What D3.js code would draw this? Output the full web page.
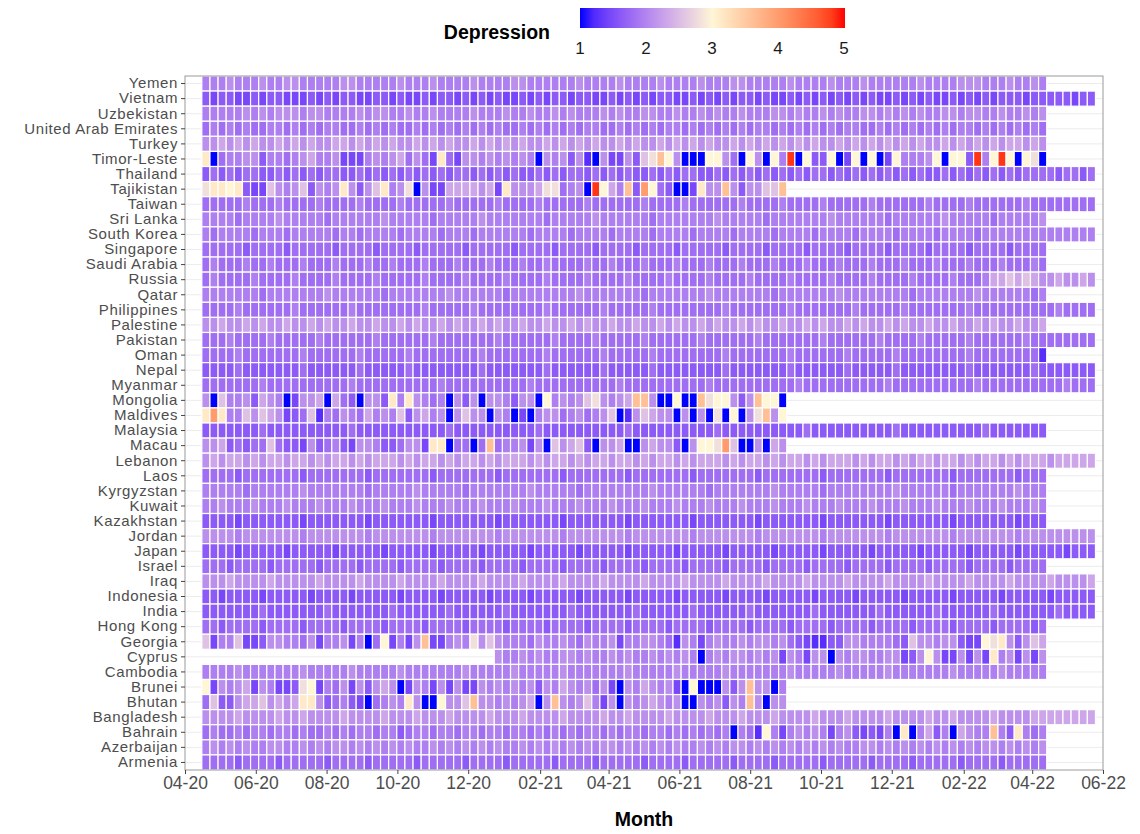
<!DOCTYPE html>
<html>
<head>
<meta charset="utf-8">
<script src="https://cdn.jsdelivr.net/npm/d3@7"></script>
<style>
  body { margin: 0; background: #fff; }
  svg { display: block; font-family: "Liberation Sans", Arial, Helvetica, sans-serif; }
</style>
</head>
<body>
<svg id="chart" width="1140" height="834"></svg>
<script>
// Countries, top row first
const countries = [
  "Yemen", "Vietnam", "Uzbekistan", "United Arab Emirates", "Turkey", "Timor-Leste",
  "Thailand", "Tajikistan", "Taiwan", "Sri Lanka", "South Korea", "Singapore",
  "Saudi Arabia", "Russia", "Qatar", "Philippines", "Palestine", "Pakistan", "Oman",
  "Nepal", "Myanmar", "Mongolia", "Maldives", "Malaysia", "Macau", "Lebanon", "Laos",
  "Kyrgyzstan", "Kuwait", "Kazakhstan", "Jordan", "Japan", "Israel", "Iraq",
  "Indonesia", "India", "Hong Kong", "Georgia", "Cyprus", "Cambodia", "Brunei",
  "Bhutan", "Bangladesh", "Bahrain", "Azerbaijan", "Armenia"
];

// Weekly depression score, one character per week starting 2020-04-19
// ('.' = no survey that week). Character -> score given by levelValue.
const weeklyCodes = [
  "5556555655 6655555665 5555655565 5556555566 5555556555 5655556555 5655566555 5565555655 5655555565 5556665556 5565",
  "3233223233 2223232332 2332322323 3232323223 2323323322 3232323322 3232323323 2232323232 3232232323 2232323233 3233333233",
  "5555565656 6656655556 5665565565 5556555655 6556565556 5655665565 5656556555 6656556565 5665656565 5665665565 5656",
  "4545454455 4545455445 4545445454 5454545445 4545454554 4545454554 5454545455 4545454545 5445454545 4545545454 5454",
  "6676767667 6767667767 6767667676 7667676767 6676767676 6767667676 7676676767 6767676676 7676767676 6767676767 7676",
  "yB45566355 4567556222 565674642y 426656 56565B6563 61B6226389 ow6BBBww64 Bw6Bw5 RBw33wB2wB wB2w5556wB ww3R5wRwBw 9B",
  "3434344334 3434344334 3434343434 3443434343 3434344343 4343343434 4334343434 3434344343 4343434343 3434343434 3444434434",
  "9yywy32286 5683656y63 68y569B622 777767 2y66679945 6BRw75o3Ow 43BB2y66o6 36688o",
  "4444454445 4444544445 4444544444 5444445444 4544444544 4444544445 4444445444 4544445444 4454444445 4444544444 4544444444",
  "5555455556 5555545555 5565555545 5555655555 5545555565 5555545555 5556555554 5555555655 5555455555 5655555455 5556",
  "5455554555 4555554554 5555455554 5554555555 4555545555 4555545555 4555545555 4555545555 4555545555 4555545555 5555555555",
  "4444434444 3444443444 4344443444 4434444434 4443444434 4443444434 4444344443 4444344443 4444344443 4444344443 4444",
  "4544454454 4454445444 5445444544 4544454445 4454444544 5444544454 4454445444 5444544454 4454445444 5444544454 4454",
  "4544445444 4544445444 4544444544 4454444544 4454444544 4454444544 4454444544 4454444544 4454444544 4454445778 7876676676",
  "5555555455 5555565555 5545555555 6555555455 5555556555 5555455555 5565555555 4555555565 5555555455 5555565555 5545",
  "4444544444 4544444454 4444444544 4445444444 4454444445 4444454444 4444544444 4454444444 5444445444 4444544444 4444454444",
  "6676676766 7667676676 6766767667 6766767667 6676676766 7667667676 6767667676 6766767667 6766767667 6676676766 7667",
  "4445444454 4444544444 4544444454 4444445444 4445444454 4444544444 4544444454 4444445444 4445444454 4444544444 4544444444",
  "4444544444 4454444445 4444454444 4444544444 4454444445 4444454444 4444544444 4454444445 4444454444 4444544444 4441",
  "3333433333 3343333334 3333343333 3333433333 3343333334 3333343333 3333433333 3343333334 3333343333 3333433333 3343333333",
  "4444444544 4444444454 4444444445 4444444444 5444444444 4544444444 4454444444 4445444444 4444544444 4444454444 4444445444",
  "6B85563765 B2667B743B 663y5y6545 B636B6 65366Bw565 6896567oo6 BBwBBo9ww6 36owwB",
  "yOy5586876 2348154654 7565836756 B6866B 65B2B56645 64568B1687 66B6B6B9Bw B69o6w",
  "3333333433 3333333343 3333333333 4333333333 3433333333 3343333333 3334333333 3333433333 3333343333 3333334333 3333",
  "6673434484 3326345326 65334662yy B44B4o 455626B867 83B667BB67 663B6ww9O8 BB6B76",
  "6767767677 6776767767 6777676776 7677676777 6767767677 6776767767 6777676776 7677676777 6767767677 6776767767 6777677777",
  "4444344444 4434444444 3444444434 4444443444 4444344444 4434444444 3444444434 4444443444 4444344444 4434444444 3444",
  "5555545555 5565555555 4555556555 5545555555 6555554555 5555565555 5545555555 6555554555 5555565555 5545555555 6555",
  "5565556555 6555655565 5565556555 6555655565 5565556555 6555655565 5565556555 6555655565 5565556555 6555655565 5565",
  "3333233333 3323333333 2333333323 3333332333 3333233333 3323333333 2333333323 3333332333 3333233333 3323333333 2333",
  "6666566666 6656666666 5666666656 6666665666 6666566666 6656666666 5666666656 6666665666 6666566666 6656666666 5666666666",
  "3333233333 2333332333 3323333323 3333233333 2333332333 3323333323 3333233333 2333332333 3323333323 3333233333 2333332333",
  "4443444434 4444344443 4444344443 4444344443 4444344443 4444344443 4444344443 4444344443 4444344443 4444344443 4444",
  "6667666676 6666766667 6666766667 6666766667 6666766667 6666766667 6666766667 6666766667 6666766667 6666766667 6666766667",
  "3323333233 3332333323 3333233332 3333323333 2333332333 3323333323 3333233332 3333323333 2333332333 3323333323 3333233333",
  "3333333433 3333343333 3334333333 4333333433 3333343333 3334333333 4333333433 3333343333 3334333333 4333333433 3333343333",
  "4434444344 4434444344 4434444344 4434444344 4434444344 4434444344 4434444344 4434444344 4434444344 4434444344 4434",
  "8255822366 5546255625 B4w2526o22 565968 6555465565 4655625566 5416525655 6 5665643211 3366555543 866566322w 9y63687",
  ".......... .......... .......... ...... 6556565566 5655656556 56565B5656 6 5656265266 B656655662 36w6226262 y562626",
  "5555655555 5565555565 5555655555 5565555565 5555655555 5565555565 5555655555 5565555565 5555655555 5565555565 5555",
  "w265672652 239w254626 3676B26526 262265 6565636576 56462B6576 562BwBBB63 6o66B5",
  "4833677867 67yy634532 B4565y6BBw 668o66 56567B6o65 68526B6567 656BB65636 5o6B66",
  "6666766667 6676666766 6676667666 7666676667 6666766667 6676666766 6676667666 7666676667 6666766667 6676666766 6677777777",
  "4544545545 5454454545 5455345545 545545 5455454545 4554545545 545454545B 5 41w5256565 25632325By B5735B7655 o53y545",
  "5656565566 5565656656 5656565565 6565656556 5656565656 6565656565 5656566565 6565656565 5665656565 6565656656 5656",
  "4444344443 4444434444 3444443444 4434444344 4443444434 4444344443 4444434444 3444443444 4434444344 4443444434 4444"
];

const levelValue = {
  "B": 1.0, "1": 1.25, "2": 1.45, "3": 1.62, "4": 1.8, "5": 1.95, "6": 2.1,
  "7": 2.3, "8": 2.55, "9": 2.8, "w": 3.0, "y": 3.15, "o": 3.6, "O": 4.0, "R": 4.85
};

const firstWeek = new Date(2020, 3, 19);
const xTickLabels = ["04-20", "06-20", "08-20", "10-20", "12-20", "02-21", "04-21",
                     "06-21", "08-21", "10-21", "12-21", "02-22", "04-22", "06-22"];
const legendTicks = [1, 2, 3, 4, 5];

// ---- decode into tile records ----
const tiles = [];
countries.forEach((country, r) => {
  const code = weeklyCodes[r].replace(/\s+/g, "");
  for (let i = 0; i < code.length; i++) {
    const ch = code[i];
    if (ch === ".") continue;
    tiles.push({ country, week: d3.timeDay.offset(firstWeek, 7 * i), value: levelValue[ch] });
  }
});

// ---- layout ----
const svg = d3.select("#chart");
const panel = { left: 185, right: 1103, top: 76, bottom: 770 };
const FONT = "Liberation Sans, Arial, Helvetica, sans-serif";

const x = d3.scaleTime()
  .domain([new Date(2020, 3, 1), new Date(2022, 5, 1)])
  .range([panel.left, panel.right]);

const y = d3.scaleBand()
  .domain(countries)
  .range([panel.top, panel.bottom])
  .padding(0);

const color = d3.scaleLinear()
  .domain([1, 3, 5])
  .range(["#0000ff", "#fff6d6", "#ff0000"])
  .interpolate(d3.interpolateLab)
  .clamp(true);

const tileW = x(d3.timeDay.offset(firstWeek, 7)) - x(firstWeek);

// panel background + grid
svg.append("rect")
  .attr("x", panel.left).attr("y", panel.top)
  .attr("width", panel.right - panel.left).attr("height", panel.bottom - panel.top)
  .attr("fill", "#fff");

svg.append("g").selectAll("line")
  .data(countries)
  .join("line")
  .attr("x1", panel.left).attr("x2", panel.right)
  .attr("y1", d => y(d) + y.bandwidth() / 2)
  .attr("y2", d => y(d) + y.bandwidth() / 2)
  .attr("stroke", "#ececec").attr("stroke-width", 1);

// tiles
svg.append("g").selectAll("rect")
  .data(tiles)
  .join("rect")
  .attr("x", d => x(d.week) - tileW / 2)
  .attr("y", d => y(d.country))
  .attr("width", tileW)
  .attr("height", y.bandwidth())
  .attr("fill", d => color(d.value))
  .attr("stroke", "#fff")
  .attr("stroke-width", 1.2);

// panel border
svg.append("rect")
  .attr("x", panel.left).attr("y", panel.top)
  .attr("width", panel.right - panel.left).attr("height", panel.bottom - panel.top)
  .attr("fill", "none").attr("stroke", "#9a9a9a").attr("stroke-width", 1);

// axes
const tickDates = xTickLabels.map(s => {
  const [m, yy] = s.split("-").map(Number);
  return new Date(2000 + yy, m - 1, 1);
});

const xAxis = d3.axisBottom(x)
  .tickValues(tickDates)
  .tickFormat(d3.timeFormat("%m-%y"))
  .tickSize(4).tickPadding(3);

const gx = svg.append("g")
  .attr("transform", `translate(0,${panel.bottom})`)
  .call(xAxis);
gx.select(".domain").remove();
gx.selectAll(".tick line").attr("stroke", "#444");
gx.selectAll(".tick text")
  .attr("fill", "#4d4d4d").attr("font-size", 17.5)
  .attr("font-family", FONT);

const yAxis = d3.axisLeft(y).tickSize(4).tickPadding(3);
const gy = svg.append("g")
  .attr("transform", `translate(${panel.left},0)`)
  .call(yAxis);
gy.select(".domain").remove();
gy.selectAll(".tick line").attr("stroke", "#444");
gy.selectAll(".tick text")
  .attr("fill", "#4d4d4d").attr("font-size", 15)
  .attr("font-family", FONT)
  .attr("letter-spacing", 0.6);

svg.append("text")
  .attr("x", (panel.left + panel.right) / 2).attr("y", 826)
  .attr("text-anchor", "middle")
  .attr("font-size", 19.5).attr("font-weight", "bold")
  .attr("fill", "#000")
  .text("Month");

// legend colourbar
const legend = { x0: 580, x1: 845, y: 8, h: 20 };
const defs = svg.append("defs");
const grad = defs.append("linearGradient").attr("id", "depr-grad")
  .attr("x1", "0%").attr("x2", "100%").attr("y1", "0%").attr("y2", "0%");
d3.range(0, 1.0001, 0.05).forEach(t => {
  grad.append("stop")
    .attr("offset", `${t * 100}%`)
    .attr("stop-color", color(1 + 4 * t));
});

svg.append("rect")
  .attr("x", legend.x0).attr("y", legend.y)
  .attr("width", legend.x1 - legend.x0).attr("height", legend.h)
  .attr("fill", "url(#depr-grad)");

const lx = d3.scaleLinear().domain([1, 5]).range([legend.x0, legend.x1 - 1]);
svg.append("g").selectAll("text")
  .data(legendTicks)
  .join("text")
  .attr("x", d => lx(d)).attr("y", 54)
  .attr("text-anchor", "middle")
  .attr("font-size", 17).attr("fill", "#1a1a1a")
  .attr("font-family", FONT)
  .text(d => d);

svg.append("text")
  .attr("x", 550).attr("y", 39)
  .attr("text-anchor", "end")
  .attr("font-size", 19.5).attr("font-weight", "bold")
  .attr("fill", "#000")
  .text("Depression");
</script>
</body>
</html>
